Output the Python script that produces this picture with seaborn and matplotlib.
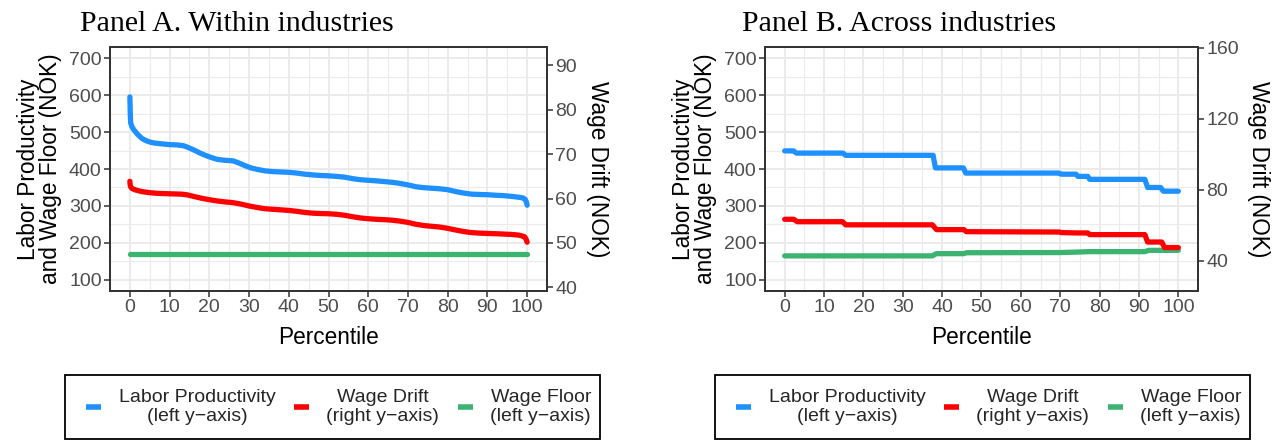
import numpy as np
import pandas as pd
import matplotlib
matplotlib.use("Agg")
import matplotlib.pyplot as plt
from matplotlib.lines import Line2D
from matplotlib.patches import Rectangle
from matplotlib.ticker import MultipleLocator
import seaborn as sns

# ---------------- data ----------------
# Panel A: within industries (percentile, value)
a_lp_pct = [0, 0.05, 0.1, 0.2, 0.5, 1, 2, 3, 4, 5, 6, 8, 10, 12, 13.5, 14.5, 16, 17.5, 19, 20.5,
            22, 24, 26, 27.5, 29, 30.5, 32, 34, 36, 38, 40, 42, 44, 46, 48, 50, 52, 54, 56, 58,
            60, 62, 64, 66, 68, 70, 72, 74, 76, 78, 80, 82, 84, 86, 88, 90, 92, 94, 96, 98,
            99, 99.5, 99.8, 100]
a_lp_val = [595, 575, 550, 525, 515, 506, 493, 483, 477, 473, 470.5, 468, 466, 465, 463, 459, 452, 444, 437, 431,
            426, 423.5, 422, 416, 409, 403, 399, 395, 393, 392, 391, 389, 386, 384, 382.5, 381.5, 380, 378, 374, 371,
            369.5, 368, 366, 364, 361, 357, 352, 349.5, 348, 346.5, 344, 339, 335, 332, 331, 330.5, 329, 328, 326, 323.5,
            321.5, 318, 311, 302]

a_wd_pct = [0, 0.1, 0.3, 0.6, 1.5, 3, 5, 7, 10, 13, 14.5, 16, 18, 20, 22, 24, 26, 28, 30, 32,
            34, 36, 38, 40, 42, 44, 46, 48, 50, 52, 54, 56, 58, 60, 62, 64, 66, 68, 70, 72,
            74, 76, 78, 80, 82, 84, 86, 88, 90, 92, 94, 96, 98, 99.3, 99.7, 100]
a_wd_val = [63.9, 62.92, 62.5, 62.25, 61.92, 61.58, 61.33, 61.17, 61.08, 61.0, 60.83, 60.5, 60.08, 59.75, 59.46,
            59.25, 59.08, 58.75, 58.33, 58.0, 57.71, 57.58, 57.46, 57.33, 57.13, 56.88, 56.71, 56.63, 56.58, 56.46,
            56.25, 55.92, 55.63, 55.46, 55.33, 55.25, 55.13, 54.92, 54.63, 54.21, 53.92, 53.75, 53.58, 53.29, 52.92,
            52.58, 52.33, 52.21, 52.14, 52.08, 52.0, 51.92, 51.75, 51.42, 50.92, 50.17]

a_wf_pct = [0, 25, 50, 75, 100]
a_wf_val = [171, 171, 171, 171, 171]

# Panel B: across industries
b_lp_pct = [0, 2.2, 3.0, 14.8, 15.5, 37.7, 38.3, 45.4, 46.0, 69.7, 70.2, 74.0, 74.5, 77.0, 77.5,
            91.5, 92.2, 95.5, 96.2, 100]
b_lp_val = [449, 449, 443, 443, 437, 437, 403, 403, 389, 389, 386, 386, 380, 380, 372,
            372, 350, 350, 340, 340]

b_wd_pct = [0, 2.3, 3.2, 14.7, 15.5, 37.5, 38.6, 45.5, 46.2, 69.8, 70.2, 74.2, 77.0, 77.5,
            91.5, 92.2, 95.8, 96.5, 100]
b_wd_val = [63.33, 63.33, 61.98, 61.98, 60.21, 60.21, 57.5, 57.5, 56.35, 56.15, 55.83, 55.63, 55.63, 54.69,
            54.69, 50.52, 50.52, 47.40, 47.40]

b_wf_pct = [0, 37.5, 38.5, 45.5, 46.2, 70, 75, 77.5, 91.5, 92.5, 100]
b_wf_val = [165, 165, 171, 171, 173.5, 174, 175.5, 176.5, 176.5, 180, 180]

x_ticks = list(range(0, 101, 10))
left_ticks = [100, 200, 300, 400, 500, 600, 700]
a_right_ticks = [40, 50, 60, 70, 80, 90]
b_right_ticks = [40, 80, 120, 160]

titles = ["Panel A. Within industries", "Panel B. Across industries"]
left_label = "Labor Productivity\nand Wage Floor (NOK)"
right_label = "Wage Drift (NOK)"
x_label = "Percentile"
legend_labels = ["Labor Productivity\n(left y\u2212axis)", "Wage Drift\n(right y\u2212axis)",
                 "Wage Floor\n(left y\u2212axis)"]

# secondary axis transforms: left = a*right + b
a_trans = (12.0, -400.0)
b_trans = (4.8, -40.0)

BLUE, RED, GREEN = "#1E90FF", "#FF0000", "#3CB371"

# ---------------- style ----------------
sns.set_theme(style="white")
plt.rcParams['font.family'] = ['Liberation Sans', 'DejaVu Sans']

fig = plt.figure(figsize=(12.72, 4.41), dpi=100)
W, H = 1272, 441

def px_axes(l, t, r, b):
    return fig.add_axes([l / W, 1 - b / H, (r - l) / W, (b - t) / H])

panels = [
    dict(rect=(110, 47, 547, 291), lp=(a_lp_pct, a_lp_val), wd=(a_wd_pct, a_wd_val),
         wf=(a_wf_pct, a_wf_val), rt=a_right_ticks, tr=a_trans, title_x=80, leg=(65, 600)),
    dict(rect=(765, 47, 1198, 291), lp=(b_lp_pct, b_lp_val), wd=(b_wd_pct, b_wd_val),
         wf=(b_wf_pct, b_wf_val), rt=b_right_ticks, tr=b_trans, title_x=742, leg=(715, 1250)),
]

LW = 3.8
TICK_FS = 14
LAB_FS = 16.3
LEG_TOP, LEG_BOT = 375, 439
for i, p in enumerate(panels):
    ax = px_axes(*p["rect"])
    ylo, yhi = 70, 730
    ax.set_xlim(-5, 105)
    ax.set_ylim(ylo, yhi)
    ax.xaxis.set_minor_locator(MultipleLocator(5))
    ax.yaxis.set_minor_locator(MultipleLocator(50))
    ax.set_xticks(x_ticks)
    ax.set_yticks(left_ticks)
    ax.grid(which="major", color="#EBEBEB", lw=1.4, zorder=0)
    ax.grid(which="minor", color="#EBEBEB", lw=0.8, zorder=0)
    ax.set_axisbelow(True)

    dlp = pd.DataFrame({"pct": p["lp"][0], "val": p["lp"][1]})
    dwf = pd.DataFrame({"pct": p["wf"][0], "val": p["wf"][1]})
    sns.lineplot(data=dwf, x="pct", y="val", ax=ax, color=GREEN, lw=LW, estimator=None, sort=False)
    sns.lineplot(data=dlp, x="pct", y="val", ax=ax, color=BLUE, lw=LW, estimator=None, sort=False)

    ax2 = ax.twinx()
    a_, b_ = p["tr"]
    ax2.set_ylim((ylo - b_) / a_, (yhi - b_) / a_)
    ax2.set_yticks(p["rt"])
    dwd = pd.DataFrame({"pct": p["wd"][0], "val": p["wd"][1]})
    sns.lineplot(data=dwd, x="pct", y="val", ax=ax2, color=RED, lw=LW, estimator=None, sort=False)
    ax2.grid(False)

    for a in (ax, ax2):
        for s in a.spines.values():
            s.set_color("#333333")
            s.set_linewidth(1.3)
        a.tick_params(axis="both", which="major", length=4, width=1.1, color="#333333",
                      labelsize=TICK_FS, labelcolor="#4D4D4D", pad=2)
        a.tick_params(which="minor", length=0)
    ax.tick_params(axis="y", left=True, right=False)
    ax.tick_params(axis="x", bottom=True)
    ax2.tick_params(axis="y", right=True)

    ax.set_xlabel(x_label, fontsize=LAB_FS, color="black", labelpad=7)
    ax.set_ylabel(left_label, fontsize=LAB_FS, color="black", labelpad=5, linespacing=0.95)
    ax2.set_ylabel(right_label, fontsize=LAB_FS, color="black", rotation=270, va="bottom", labelpad=6)

    fig.text(p["title_x"] / W, 1 - 31 / H, titles[i], family="Liberation Serif", fontsize=21.5,
             va="baseline", ha="left", color="black")

    # legend box
    l0, l1 = p["leg"]
    fig.patches.append(Rectangle((l0 / W, 1 - LEG_BOT / H), (l1 - l0) / W, (LEG_BOT - LEG_TOP) / H,
                                 transform=fig.transFigure, fill=False, edgecolor="black",
                                 linewidth=1.3, zorder=5))
    handles = [Line2D([], [], color=c, lw=4, solid_capstyle="butt") for c in (BLUE, RED, GREEN)]
    leg = fig.legend(handles, legend_labels, ncol=3, loc="center",
                     bbox_to_anchor=((l0 + l1) / 2 / W + 6 / W, 1 - (LEG_TOP + LEG_BOT) / 2 / H),
                     fontsize=14, frameon=False,
                     handlelength=0.8, handletextpad=0.88, borderpad=0.0, columnspacing=0.95,
                     borderaxespad=0)
    for t in leg.get_texts():
        t.set_multialignment("center")
        t.set_linespacing(1.2)

fig.savefig("out.png", dpi=100)
